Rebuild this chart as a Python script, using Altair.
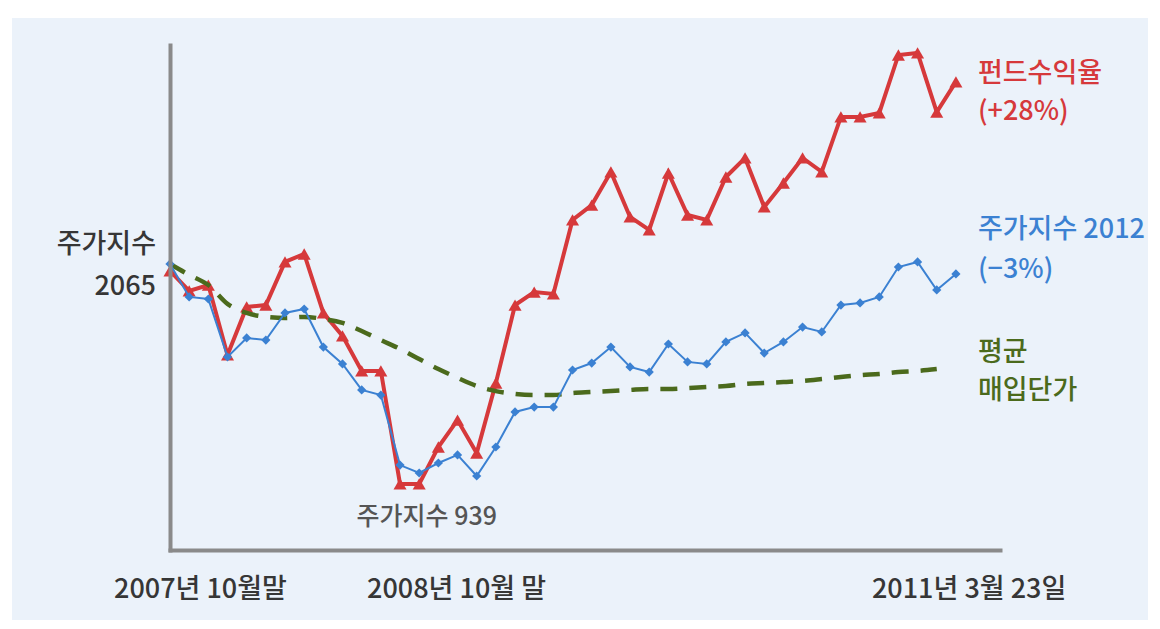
import altair as alt
import pandas as pd

# ---- data (month index 0 = 2007-10 ... 41 = 2011-03-23) ----
months = list(range(42))
kospi = [2065, 1890, 1879, 1571, 1672, 1661, 1805, 1826, 1624, 1534,
         1396, 1369, 997, 955, 1008, 1051, 939, 1093, 1279, 1305,
         1305, 1502, 1539, 1624, 1518, 1491, 1640, 1545, 1534, 1651,
         1699, 1592, 1651, 1730, 1704, 1847, 1858, 1890, 2049, 2076,
         1927, 2012]
fund = [2028, 1922, 1953, 1582, 1837, 1847, 2076, 2118, 1805, 1683,
        1497, 1497, 897, 897, 1093, 1236, 1061, 1433, 1847, 1916,
        1906, 2299, 2378, 2554, 2315, 2246, 2548, 2325, 2299, 2527,
        2628, 2368, 2495, 2628, 2554, 2846, 2846, 2867, 3175, 3186,
        2872, 3032]
avg_cost = [2065, 2007, 1953, 1853, 1805, 1784, 1778, 1784, 1773, 1752,
            1709, 1661, 1614, 1560, 1507, 1460, 1417, 1390, 1375, 1369,
            1369, 1380, 1385, 1390, 1396, 1401, 1401, 1406, 1412, 1417,
            1428, 1433, 1438, 1444, 1454, 1465, 1475, 1481, 1491, 1497,
            1507]
x_labels = ["2007년 10월말", "2008년 10월 말", "2011년 3월 23일"]
x_label_months = [0, 12, 41]

X_DOMAIN = [0, 43.3]
Y_DOMAIN = [546, 3228]

RED = "#d6393b"
BLUE = "#3b81d2"
GREEN = "#4b6a1c"
AXIS_GRAY = "#8a8a8a"
TEXT = "#363636"
FONT = "Noto Sans CJK KR"

df_k = pd.DataFrame({"m": months, "v": kospi})
df_f = pd.DataFrame({"m": months, "v": fund})
df_a = pd.DataFrame({"m": months[:len(avg_cost)], "v": avg_cost})

axis_style = dict(domain=True, domainColor=AXIS_GRAY, domainWidth=4,
                  domainCap="square", ticks=False, labels=False,
                  grid=False, title=None, zindex=1)
x_enc = alt.X("m:Q", scale=alt.Scale(domain=X_DOMAIN, nice=False, zero=False),
              axis=alt.Axis(**axis_style))
y_enc = alt.Y("v:Q", scale=alt.Scale(domain=Y_DOMAIN, nice=False, zero=False),
              axis=alt.Axis(**axis_style))

panel = alt.Chart(pd.DataFrame({"a": [0]})).mark_rect(
    color="#ebf2fa").encode(
    x=alt.value(-158), x2=alt.value(1000), y=alt.value(-27), y2=alt.value(600))

fund_line = alt.Chart(df_f).mark_line(color=RED, strokeWidth=4).encode(x=x_enc, y=y_enc)
fund_pts = alt.Chart(df_f).mark_point(shape="triangle-up", filled=True, color=RED,
                                      size=170, opacity=1).encode(x=x_enc, y=y_enc)
avg_line = alt.Chart(df_a).mark_line(color=GREEN, strokeWidth=4.5,
                                     strokeDash=[17, 12], interpolate="monotone").encode(x=x_enc, y=y_enc)
kospi_line = alt.Chart(df_k).mark_line(color=BLUE, strokeWidth=2).encode(x=x_enc, y=y_enc)
kospi_pts = alt.Chart(df_k).mark_point(shape="diamond", filled=True, color=BLUE,
                                       size=85, opacity=1).encode(x=x_enc, y=y_enc)


def label(m, v, text, color, size=27, align="left", dx=0, dy=0, lh=40, weight=500):
    d = pd.DataFrame({"m": [m], "v": [v], "t": [text]})
    return alt.Chart(d).mark_text(
        font=FONT, fontSize=size, fontWeight=weight, color=color, align=align,
        baseline="middle", dx=dx, dy=dy, lineBreak="\n", lineHeight=lh
    ).encode(x=x_enc, y=y_enc, text="t:N")


start_lbl = label(0, kospi[0], "주가지수\n2065", TEXT, align="right", dx=-14, dy=-19, lh=42)
low_lbl = label(16, min(kospi), "주가지수 939", "#555555", size=25, align="center", dx=-50, dy=41)
fund_lbl = label(41, fund[-1], "펀드수익율\n(+28%)", RED, dx=22, dy=-8, lh=38)
kospi_lbl = label(41, kospi[-1], "주가지수 2012\n(−3%)", BLUE, dx=22, dy=-44, lh=40)
avg_lbl = label(41, avg_cost[-1], "평균\n매입단가", GREEN, dx=22, dy=-16, lh=38)
bottom = [
    label(x_label_months[0], Y_DOMAIN[0], x_labels[0], TEXT, dx=-56, dy=40),
    label(x_label_months[1], Y_DOMAIN[0], x_labels[1], TEXT, dx=-33, dy=40),
    label(x_label_months[2], Y_DOMAIN[0], x_labels[2], TEXT, dx=-84, dy=40),
]

chart = alt.layer(
    panel, fund_line, fund_pts, avg_line, kospi_line, kospi_pts,
    start_lbl, low_lbl, fund_lbl, kospi_lbl, avg_lbl, *bottom
).properties(
    width=830, height=505,
    autosize=alt.AutoSizeParams(type="none"),
    padding={"left": 162, "top": 37, "right": 148, "bottom": 70},
).configure(background="#ffffff").configure_view(stroke=None)

chart.save("out.html", embed_options={"renderer": "svg", "actions": False})
